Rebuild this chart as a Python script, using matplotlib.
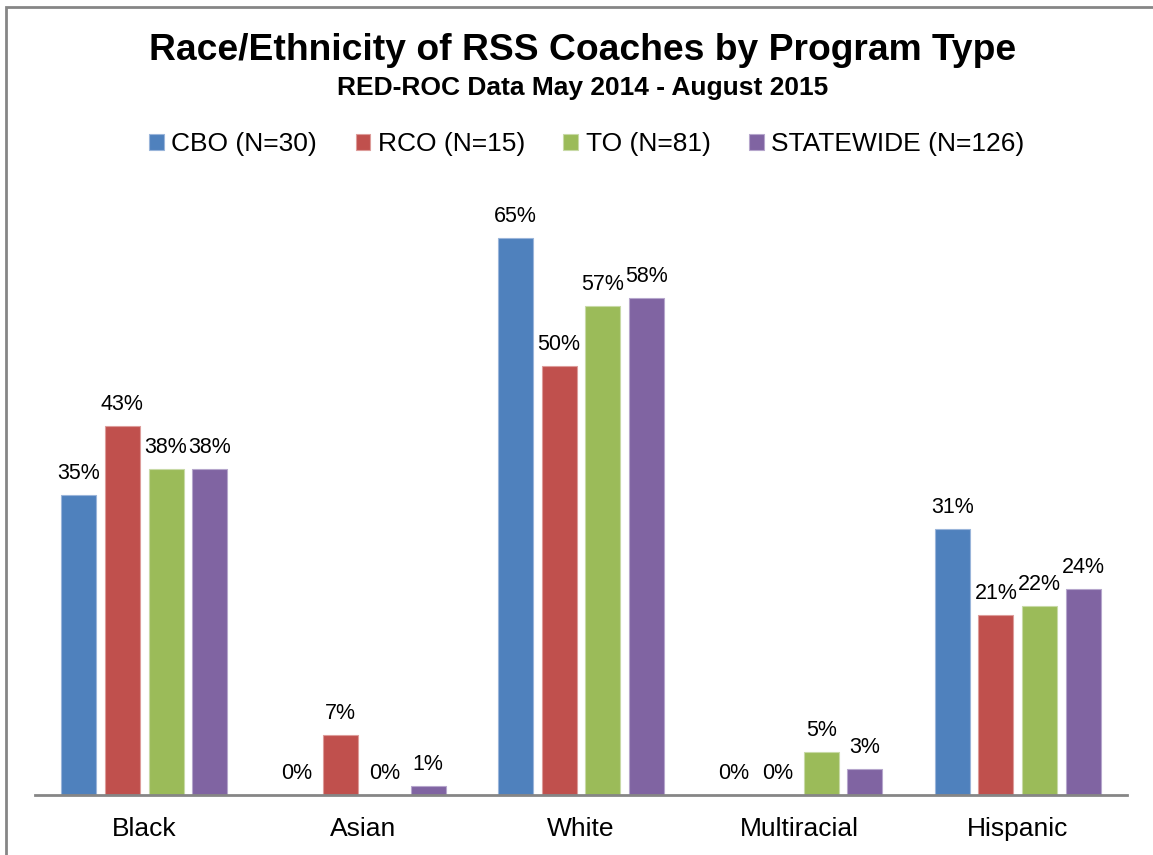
import numpy as np
import matplotlib
matplotlib.use('Agg')
import matplotlib.pyplot as plt
from matplotlib.patches import Rectangle

plt.rcParams['font.family'] = ['Liberation Sans', 'DejaVu Sans']

# 데이터
categories = ['Black', 'Asian', 'White', 'Multiracial', 'Hispanic']
series_names = ['CBO (N=30)', 'RCO (N=15)', 'TO (N=81)', 'STATEWIDE (N=126)']
cbo = [35, 0, 65, 0, 31]
rco = [43, 7, 50, 0, 21]
to = [38, 0, 57, 5, 22]
statewide = [38, 1, 58, 3, 24]
series_values = [cbo, rco, to, statewide]
colors = ['#4F81BD', '#C0504D', '#9BBB59', '#8064A2']
edge_colors = ['#9AB5DA', '#DD9C9A', '#C8DAA6', '#B6A6CC']

fig = plt.figure(figsize=(11.53, 8.55), dpi=100)
ax = fig.add_axes([35 / 1153, 1 - 795 / 855, (1127 - 35) / 1153, 600 / 855])

x = np.arange(len(categories))
width = 0.16
step = 0.2
for i, (name, vals) in enumerate(zip(series_names, series_values)):
    pos = x + (i - 1.5) * step
    bars = ax.bar(pos, vals, width, color=colors[i], edgecolor=edge_colors[i],
                  linewidth=0.8, label=name)
    for b, v in zip(bars, vals):
        ax.text(b.get_x() + b.get_width() / 2, v + 1.3, f'{v}%',
                ha='center', va='bottom', fontsize=15.5)

ax.set_xlim(-0.5, len(categories) - 0.5)
ax.set_ylim(0, 70)
ax.set_xticks(x)
ax.set_xticklabels(categories, fontsize=19)
ax.tick_params(axis='x', length=0, pad=16)
ax.set_yticks([])
for s in ['top', 'right', 'left']:
    ax.spines[s].set_visible(False)
ax.spines['bottom'].set_color('#868686')
ax.spines['bottom'].set_linewidth(2)

# 제목
fig.text(0.5 + 6 / 1153, 1 - 51 / 855, 'Race/Ethnicity of RSS Coaches by Program Type',
         ha='center', va='center', fontsize=26.8, fontweight='bold')
fig.text(0.5 + 6 / 1153, 1 - 88 / 855, 'RED-ROC Data May 2014 - August 2015',
         ha='center', va='center', fontsize=19, fontweight='bold')

fig.legend(loc='center', bbox_to_anchor=(0.509, 1 - 144 / 855), ncol=4,
           frameon=False, fontsize=19, handlelength=0.55, handleheight=0.55,
           handletextpad=0.3, columnspacing=1.45, borderaxespad=0)

# 바깥 테두리
fig.patches.append(Rectangle((6 / 1153, -0.1), 1.2, 1 - 7 / 855 + 0.1,
                             transform=fig.transFigure, fill=False,
                             edgecolor='#868686', linewidth=2))

fig.savefig('out.png', dpi=100)
